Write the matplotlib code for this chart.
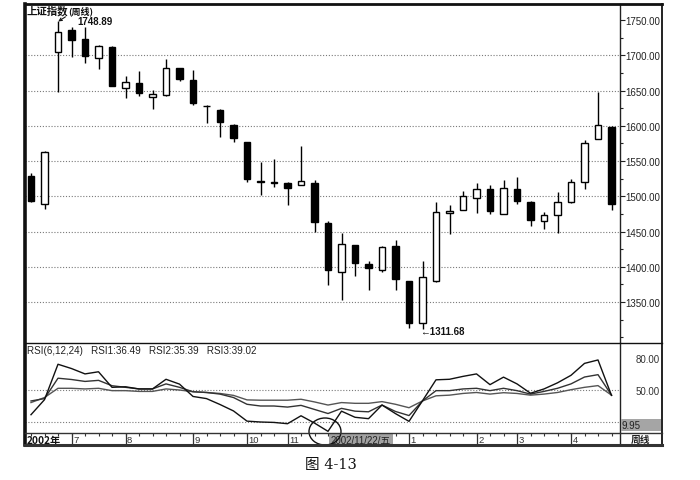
import matplotlib
matplotlib.use('Agg')
import matplotlib.pyplot as plt
from matplotlib.patches import Rectangle, Ellipse
from matplotlib.lines import Line2D
from matplotlib.ticker import MultipleLocator, FuncFormatter
import numpy as np

# ---------------- data ----------------
opens = [1529, 1489, 1704, 1736, 1723, 1695.7, 1712, 1653, 1660, 1641,
         1643.6, 1681.5, 1665, 1627.5, 1623, 1601.5, 1576.6, 1521, 1520, 1518.4,
         1516, 1518.4, 1462, 1392, 1431, 1403.6, 1396, 1430, 1379.5, 1320.3,
         1380.3, 1476, 1480.6, 1497.6, 1510, 1475, 1510, 1491.5, 1464.6, 1474,
         1491.5, 1520.7, 1581, 1598.7]
highs = [1533, 1564, 1748.89, 1739.6, 1739.6, 1714, 1712.5, 1670, 1678, 1651,
         1694.7, 1682, 1679.5, 1629.5, 1623.5, 1602.5, 1577, 1548, 1553, 1520.7,
         1571.8, 1523.5, 1465.5, 1447.5, 1431.5, 1408.7, 1429, 1438, 1380, 1408.7,
         1491.5, 1487.7, 1508, 1518.4, 1516.5, 1523.5, 1528, 1494, 1477.3, 1505.6,
         1524.5, 1580, 1647.5, 1599]
lows = [1492, 1482, 1647.5, 1697, 1689, 1680.5, 1656, 1640, 1642, 1624,
        1642, 1663, 1629.5, 1604, 1584.5, 1576.6, 1520.7, 1502, 1513.6, 1487.7,
        1516, 1450, 1374.6, 1353, 1387.5, 1367.6, 1393, 1367, 1313, 1311.68,
        1379, 1446.5, 1480, 1477, 1475, 1475, 1489, 1457.5, 1453.6, 1447.5,
        1490, 1510, 1581, 1480.6]
closes = [1493, 1563, 1732.5, 1722, 1698.5, 1713.6, 1657, 1661.7, 1646, 1645.5,
          1682, 1666, 1632, 1628, 1605, 1582, 1524.5, 1521.5, 1519.5, 1511.8,
          1522, 1464, 1396, 1432, 1405.5, 1398, 1427.7, 1382.7, 1321, 1385,
          1478, 1479, 1500, 1510.4, 1478.7, 1511.3, 1494, 1466.4, 1474, 1491.5,
          1520.7, 1575.6, 1601.5, 1489]

rsi1 = [27, 41, 74, 70, 65, 67, 52.5, 53, 51, 51,
        60, 55.5, 44, 42, 36.5, 30.5, 21, 20.2, 19.8, 18.6,
        26, 19.2, 11.5, 30.3, 24.6, 23.3, 36, 28, 20.8, 40,
        59.5, 60, 62.7, 65, 55, 62, 55.7, 47, 51, 56.7,
        63.7, 74.8, 78, 45]
rsi2 = [39.8, 42, 61, 59.8, 58, 59, 54, 52.5, 51, 51,
        55.7, 52.5, 48.4, 47.7, 46.2, 43, 36.7, 35.1, 35.1, 34.1,
        35.7, 31.9, 28.1, 32.9, 30.3, 29.7, 36, 30, 26.2, 39.8,
        49.4, 49.4, 51, 51.6, 49.4, 51.6, 49.4, 46.2, 48.7, 51.6,
        55.7, 62.1, 64.3, 45.2]
rsi3 = [38.3, 43, 51.6, 51.6, 51, 51.6, 49.4, 49.4, 48.7, 48.7,
        51, 50, 48.4, 47.7, 46.8, 45, 40.8, 40.5, 40.5, 40.5,
        41.4, 38.9, 36, 38.3, 37.6, 37.6, 39.2, 36.7, 33.5, 39.8,
        44.6, 45.2, 46.8, 47.7, 46.2, 47.5, 46.8, 45.2, 46.2, 47.7,
        50.3, 52.5, 54.1, 45.2]

price_ticks = [1350, 1400, 1450, 1500, 1550, 1600, 1650, 1700, 1750]
price_grid = [1350, 1400, 1450, 1500, 1550, 1600, 1650, 1700]
rsi_ticks = [50, 80]
rsi_grid = [20, 50]
month_idx = [3, 7, 12, 16, 19, 28, 33, 36, 40]
month_lbl = ['7', '8', '9', '10', '11', '1', '2', '3', '4']
title_main = '上证指数'
title_sub = '(周线)'
rsi_title = 'RSI(6,12,24)   RSI1:36.49   RSI2:35.39   RSI3:39.02'
hi_label = '1748.89'
lo_label = '←1311.68'
cursor_label = '2002/11/22/五'
year_label = '2002年'
period_label = '周线'
rsi_min_label = '9.95'
caption = '图 4-13'

# ---------------- layout ----------------
W, H = 700, 481
fig = plt.figure(figsize=(7, 4.81), dpi=100)
fig.patch.set_facecolor('white')

def fx(px):
    return px / W

def fy(py):
    return 1 - py / H

L, R, RR = 25, 620, 662
T, M, B1, B2 = 5, 344, 434, 446

ax1 = fig.add_axes([fx(L), fy(M), fx(R) - fx(L), fy(T) - fy(M)])
ax2 = fig.add_axes([fx(L), fy(B1), fx(R) - fx(L), fy(M) - fy(B1)])
ax3 = fig.add_axes([fx(L), fy(B2), fx(R) - fx(L), fy(B1) - fy(B2)])

n = len(opens)
idx = np.arange(n)
o = np.array(opens); c = np.array(closes)
hi = np.array(highs); lo = np.array(lows)
xlim = ((L - 31) / 13.5, (R - 31) / 13.5)

NUM = ['Liberation Sans', 'DejaVu Sans']
CJK = ['Noto Sans CJK SC', 'DejaVu Sans']

for ax in (ax1, ax2, ax3):
    ax.set_xlim(*xlim)
    ax.set_facecolor('white')
    for s in ('left', 'top', 'bottom'):
        ax.spines[s].set_visible(False)
    ax.spines['right'].set_linewidth(1.0)
    ax.spines['right'].set_color('#222222')

# ---------------- main candle panel ----------------
ax1.set_ylim(1292, 1772.7)
for g in price_grid:
    ax1.axhline(g, color='#7a7a7a', lw=0.8, ls=(0, (1, 1.6)), zorder=1)
up = c >= o
ax1.vlines(idx, lo, hi, color='black', lw=1.0, zorder=2)
ax1.bar(idx, np.abs(c - o), bottom=np.minimum(o, c), width=0.5,
        color=np.where(up, 'white', 'black'), edgecolor='black', lw=1.0, zorder=3)
ax1.set_xticks([])
ax1.yaxis.tick_right()
ax1.set_yticks(price_ticks)
ax1.yaxis.set_major_formatter(FuncFormatter(lambda v, p: f'{v:.2f}'))
ax1.yaxis.set_minor_locator(MultipleLocator(25))
ax1.tick_params(axis='y', which='major', direction='out', length=3.5, width=0.8,
                pad=0.3, labelsize=7, colors='#222222')
ax1.tick_params(axis='y', which='minor', direction='out', length=2, width=0.8, colors='#222222')
for t in ax1.get_yticklabels():
    t.set_family(NUM)

ax1.text(0.003, 0.982, title_main, transform=ax1.transAxes, ha='left', va='center',
         fontsize=7.5, family=CJK, fontweight='bold', color='#111111')
ax1.text(0.072, 0.982, title_sub, transform=ax1.transAxes, ha='left', va='center',
         fontsize=6.5, family=CJK, fontweight='bold', color='#111111')
ax1.annotate('', xy=(2.02, 1748.0), xytext=(2.55, 1754.5),
             arrowprops=dict(arrowstyle='->', lw=0.8, color='#111111',
                             mutation_scale=5, shrinkA=0, shrinkB=0))
ax1.text(3.4, 1748.6, hi_label, ha='left', va='center', fontsize=7,
         family=NUM, fontweight='bold', color='#111111')
ax1.text(28.8, 1309, lo_label, ha='left', va='center', fontsize=7,
         family=NUM, fontweight='bold', color='#111111')

# ---------------- RSI panel ----------------
ax2.set_ylim(9.95, 93.8)
for g in rsi_grid:
    ax2.axhline(g, color='#7a7a7a', lw=0.8, ls=(0, (1, 1.6)), zorder=1)
ax2.plot(idx, rsi3, color='#555555', lw=1.0, zorder=2)
ax2.plot(idx, rsi2, color='#333333', lw=1.0, zorder=3)
ax2.plot(idx, rsi1, color='#111111', lw=1.0, zorder=4)
ax2.set_xticks([])
ax2.yaxis.tick_right()
ax2.set_yticks(rsi_ticks)
ax2.yaxis.set_major_formatter(FuncFormatter(lambda v, p: f'{v:.2f}'))
ax2.tick_params(axis='y', length=0, pad=11, labelsize=7, colors='#333333')
for t in ax2.get_yticklabels():
    t.set_family(NUM)
ax2.text(0.003, 0.92, rsi_title, transform=ax2.transAxes, ha='left', va='center',
         fontsize=7.1, family=NUM, color='#222222')

# ---------------- date strip ----------------
ax3.set_ylim(0, 1)
ax3.set_yticks([])
ax3.set_xticks(idx)
ax3.xaxis.tick_top()
ax3.tick_params(axis='x', direction='in', length=2.5, width=0.8, labeltop=False,
                colors='#333333')
ax3.vlines(month_idx, 0, 1, color='#333333', lw=0.9)
for m, lbl in zip(month_idx, month_lbl):
    ax3.text(m + 0.12, 0.42, lbl, ha='left', va='center', fontsize=6.8,
             family=NUM, color='#333333')
ax3.text(xlim[0] + 0.15, 0.45, year_label, ha='left', va='center', fontsize=7.3,
         family=CJK, fontweight='bold', color='#111111')
ax3.add_patch(Rectangle((22.07, 0), 4.74, 1, facecolor='#a2a2a2', edgecolor='none', zorder=3))
ax3.text(22.2, 0.45, cursor_label, ha='left', va='center', fontsize=7,
         family=['Liberation Sans', 'Noto Sans CJK SC'], color='#222222', zorder=4)

# ---------------- right column and frame ----------------
fig.patches.append(Rectangle((fx(621), fy(432)), fx(661) - fx(621), fy(420) - fy(432),
                             transform=fig.transFigure, facecolor='#a5a5a5',
                             edgecolor='none'))
fig.text(fx(622), fy(426), rsi_min_label, ha='left', va='center', fontsize=7,
         family=NUM, color='#222222')
fig.text(fx(641), fy(440), period_label, ha='center', va='center', fontsize=7,
         family=CJK, fontweight='bold', color='#222222')

def fline(x0, y0, x1, y1, lw, col='#111111'):
    fig.lines.append(Line2D([fx(x0), fx(x1)], [fy(y0), fy(y1)], transform=fig.transFigure,
                            lw=lw, color=col))

fline(L, T, RR, T, 2.0)
fline(L, T, L, B2, 2.6)
fline(RR, T, RR, B2, 1.3)
fline(L, B2, RR, B2, 2.2, '#333333')
fline(L, M, RR, M, 1.0)
fline(L, B1, RR, B1, 1.0, '#333333')

fig.patches.append(Ellipse((fx(325), fy(432.5)), fx(32), 27 / H, transform=fig.transFigure,
                           facecolor='none', edgecolor='#111111', lw=1.0))

fig.text(fx(331), fy(465), caption, ha='center', va='center', fontsize=10.5,
         family=['DejaVu Serif', 'Noto Sans CJK SC'], color='#111111')

fig.savefig('out.png', dpi=100, facecolor='white')
